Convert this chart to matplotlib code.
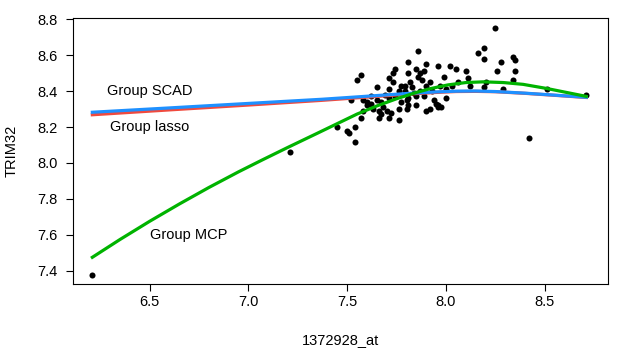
import matplotlib
matplotlib.use('Agg')
import matplotlib.pyplot as plt

plt.rcParams['font.family'] = ['Liberation Sans', 'DejaVu Sans']

# ---------------------------------------------------------------
# Data
# ---------------------------------------------------------------
pt_x = [6.21, 7.21, 8.42, 8.71, 8.51, 8.25, 7.99, 8.02, 8.05, 8.06,
        8.00, 8.00, 8.10, 8.11, 8.12, 8.16, 8.19, 8.19, 8.20, 8.19,
        8.26, 8.28, 8.29, 8.34, 8.35, 8.35, 8.34, 7.975, 7.86, 7.81,
        7.90, 7.96, 7.74, 7.73, 7.85, 7.57, 7.55, 7.81, 7.71, 7.87,
        7.86, 7.88, 7.73, 7.65, 7.77, 7.79, 7.83, 7.92, 7.90, 7.71,
        7.76, 7.79, 7.84, 7.87, 7.97, 7.52, 7.58, 7.60, 7.60, 7.62,
        7.65, 7.67, 7.63, 7.66, 7.68, 7.58, 7.71, 7.74, 7.77, 7.80,
        7.81, 7.76, 7.70, 7.67, 7.71, 7.72, 7.66, 7.80, 7.85, 7.85,
        7.89, 7.94, 7.95, 7.96, 7.92, 7.90, 7.76, 7.57, 7.54, 7.45,
        7.50, 7.51, 7.54, 7.89, 7.96, 7.81, 7.93, 8.03, 7.82, 7.69,
        7.62]
pt_y = [7.38, 8.06, 8.14, 8.38, 8.41, 8.75, 8.48, 8.54, 8.52, 8.45,
        8.41, 8.36, 8.51, 8.47, 8.43, 8.61, 8.64, 8.58, 8.45, 8.42,
        8.51, 8.56, 8.41, 8.59, 8.57, 8.51, 8.46, 8.31, 8.62, 8.56,
        8.55, 8.54, 8.52, 8.50, 8.52, 8.49, 8.46, 8.50, 8.47, 8.50,
        8.48, 8.46, 8.45, 8.42, 8.43, 8.43, 8.42, 8.45, 8.43, 8.41,
        8.40, 8.40, 8.39, 8.40, 8.43, 8.35, 8.35, 8.34, 8.32, 8.33,
        8.35, 8.34, 8.30, 8.29, 8.31, 8.29, 8.36, 8.37, 8.34, 8.35,
        8.32, 8.30, 8.29, 8.27, 8.25, 8.28, 8.25, 8.30, 8.32, 8.37,
        8.37, 8.35, 8.33, 8.31, 8.30, 8.29, 8.24, 8.25, 8.20, 8.20,
        8.18, 8.165, 8.115, 8.51, 8.32, 8.36, 8.40, 8.43, 8.45, 8.38,
        8.37]

# fitted curves
lasso_x = [6.21, 6.60, 7.00, 7.37, 7.60, 7.80, 7.95, 8.05, 8.15, 8.25, 8.40, 8.55, 8.71]
lasso_y = [8.268, 8.295, 8.322, 8.348, 8.366, 8.382, 8.392, 8.397, 8.398, 8.396, 8.387, 8.376, 8.364]

scad_x = [6.21, 6.60, 7.00, 7.37, 7.60, 7.80, 7.95, 8.05, 8.15, 8.25, 8.40, 8.55, 8.71]
scad_y = [8.282, 8.306, 8.331, 8.354, 8.371, 8.386, 8.395, 8.399, 8.400, 8.397, 8.388, 8.377, 8.365]

mcp_x = [6.21, 6.35, 6.50, 6.65, 6.80, 6.95, 7.07, 7.20, 7.35, 7.55,
         7.65, 7.75, 7.85, 7.92, 8.01, 8.10, 8.19, 8.29, 8.39, 8.51,
         8.61, 8.71]
mcp_y = [7.476, 7.575, 7.676, 7.772, 7.864, 7.951, 8.017, 8.087, 8.166, 8.272,
         8.317, 8.357, 8.392, 8.413, 8.434, 8.447, 8.451, 8.447, 8.437, 8.414,
         8.392, 8.370]

labels = ['Group SCAD', 'Group lasso', 'Group MCP']
label_x = [6.5, 6.5, 6.7]
label_y = [8.4, 8.2, 7.6]

x_ticks = [6.5, 7.0, 7.5, 8.0, 8.5]
y_ticks = [7.4, 7.6, 7.8, 8.0, 8.2, 8.4, 8.6, 8.8]

# ---------------------------------------------------------------
# Plot
# ---------------------------------------------------------------
fig = plt.figure(figsize=(6.23, 3.56), dpi=100)
ax = fig.add_axes([0.1165, 0.2014, 0.976 - 0.1165, 0.9486 - 0.2014])

ax.scatter(pt_x, pt_y, s=19, color='black', zorder=2, linewidths=0)
ax.plot(lasso_x, lasso_y, color='#F04A3E', lw=2.3, zorder=3)
ax.plot(scad_x, scad_y, color='#1E90FF', lw=2.3, zorder=4)
ax.plot(mcp_x, mcp_y, color='#00B300', lw=2.3, zorder=5)

for t, tx, ty in zip(labels, label_x, label_y):
    ax.text(tx, ty, t, ha='center', va='center', fontsize=10.5)

ax.set_xlim(6.11, 8.82)
ax.set_ylim(7.326, 8.804)
ax.set_xticks(x_ticks)
ax.set_xticklabels([f'{v:.1f}' for v in x_ticks])
ax.set_yticks(y_ticks)
ax.set_yticklabels([f'{v:.1f}' for v in y_ticks])
ax.tick_params(direction='out', length=5, width=0.8, labelsize=10.5, pad=3)
ax.tick_params(axis='y', pad=6)
for s in ax.spines.values():
    s.set_linewidth(0.8)

ax.set_xlabel('1372928_at', fontsize=10.5, labelpad=17)
ax.set_ylabel('TRIM32', fontsize=10.5, labelpad=13)

fig.savefig('out.png', dpi=100)
